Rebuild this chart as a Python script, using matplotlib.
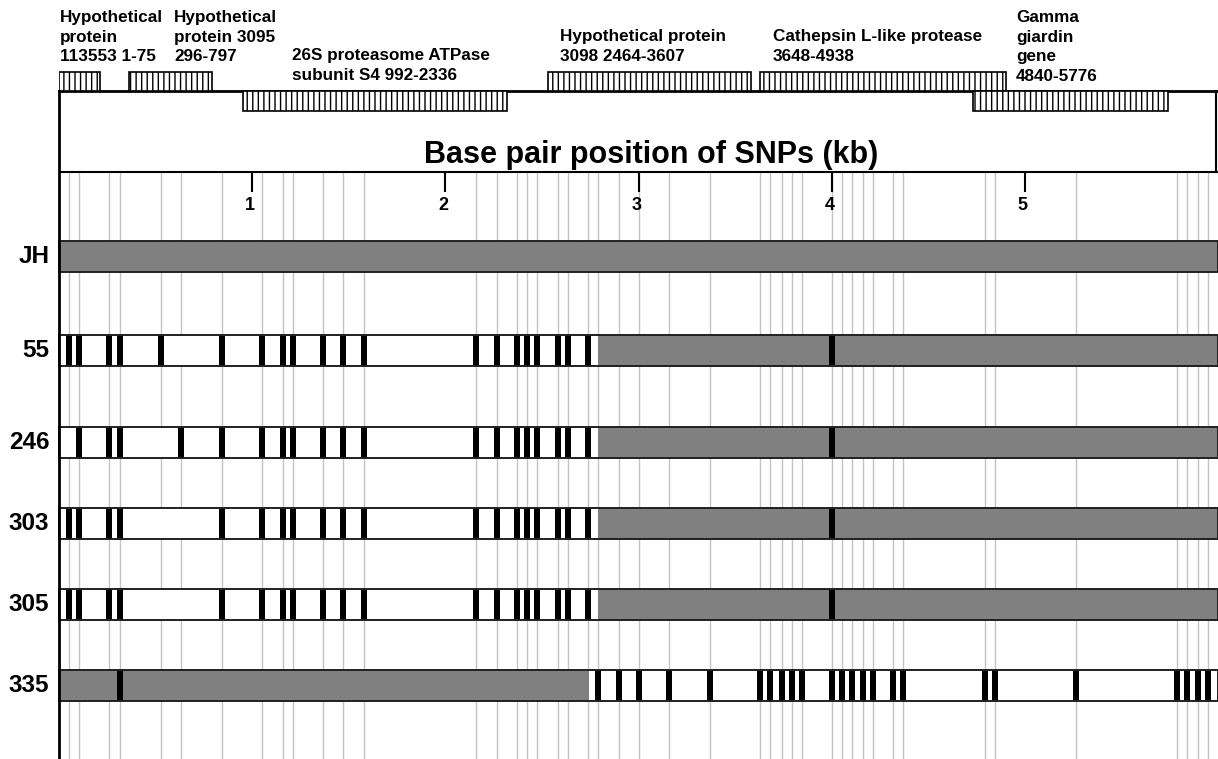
import matplotlib.pyplot as plt
from matplotlib.patches import Rectangle

plt.rcParams['font.family'] = ['Liberation Sans', 'DejaVu Sans']
plt.rcParams['hatch.linewidth'] = 1.0

# all SNP positions (kb)
snps = [0.052, 0.104, 0.259, 0.316, 0.528, 0.631, 0.844, 1.051, 1.159, 1.211,
        1.366, 1.470, 1.579, 2.158, 2.267, 2.371, 2.422, 2.474, 2.583, 2.635,
        2.738, 2.790, 2.899, 3.002, 3.157, 3.370, 3.628, 3.680, 3.742, 3.794,
        3.846, 4.001, 4.053, 4.104, 4.161, 4.213, 4.317, 4.369, 4.793, 4.845,
        5.264, 5.787, 5.839, 5.895, 5.947]

right_block = [1.366, 1.470, 1.579, 2.158, 2.267, 2.371, 2.422, 2.474, 2.583,
               2.635, 2.738, 4.001]

snp_55 = [0.052, 0.104, 0.259, 0.316, 0.528, 0.844, 1.051, 1.159, 1.211] + right_block
snp_246 = [0.104, 0.259, 0.316, 0.631, 0.844, 1.051, 1.159, 1.211] + right_block
snp_303 = [0.052, 0.104, 0.259, 0.316, 0.844, 1.051, 1.159, 1.211] + right_block
snp_305 = [0.052, 0.104, 0.259, 0.316, 0.844, 1.051, 1.159, 1.211] + right_block
snp_335 = [0.316] + [s for s in snps if s >= 2.79]

strains = ['JH', '55', '246', '303', '305', '335']
strain_snps = [[], snp_55, snp_246, snp_303, snp_305, snp_335]
# stretches identical to JH (grey)
strain_grey = [[(0, 6.0)], [(2.79, 6.0)], [(2.79, 6.0)], [(2.79, 6.0)],
               [(2.79, 6.0)], [(0, 2.742)]]

gene_labels = ['Hypothetical\nprotein\n113553 1-75',
               'Hypothetical\nprotein 3095\n296-797',
               '26S proteasome ATPase\nsubunit S4 992-2336',
               'Hypothetical protein\n3098 2464-3607',
               'Cathepsin L-like protease\n3648-4938',
               'Gamma\ngiardin\ngene\n4840-5776']
gene_start = [0.0, 0.36, 0.95, 2.53, 3.63, 4.73]
gene_end = [0.21, 0.79, 2.32, 3.58, 4.90, 5.74]
gene_above = [True, True, False, True, True, False]

kb_ticks = [1, 2, 3, 4, 5]

# layout (pixel rows)
row_top = [241, 335, 427, 508, 589, 670]
row_h = 31
label_x = [0.005, 0.595, 1.206, 2.593, 3.696, 4.953]
label_y = [10, 10, 48, 29, 29, 10]

fig = plt.figure(figsize=(12.18, 7.59), dpi=100)
ax = fig.add_axes([59 / 1218, 0, 1 - 59 / 1218, 1])
ax.set_xlim(0, 6.0)
ax.set_ylim(759, 0)
ax.axis('off')

# gene map
ax.plot([0, 6.0], [91, 91], color='black', lw=2, clip_on=False, zorder=3)
for s, e, up in zip(gene_start, gene_end, gene_above):
    y0 = 72 if up else 91
    ax.add_patch(Rectangle((s, y0), e - s, 19 if up else 20, facecolor='white',
                           edgecolor='black', hatch='|||', lw=1.2, zorder=4))
for x, y, t in zip(label_x, label_y, gene_labels):
    ax.text(x, y, t, ha='left', va='top', fontsize=12.3, fontweight='bold',
            linespacing=1.38)

# axis box
ax.plot([0, 6.0], [172, 172], color='black', lw=1.5, zorder=3)
ax.plot([5.99, 5.99], [91, 172], color='black', lw=1.5, zorder=3)
ax.plot([0, 0], [91, 759], color='black', lw=2, clip_on=False, zorder=6)
ax.text(3.064, 155, 'Base pair position of SNPs (kb)', ha='center', va='center',
        fontsize=22, fontweight='bold')
ax.vlines(kb_ticks, 172, 192, color='black', lw=1.5, zorder=3)
for k in kb_ticks:
    ax.text(k - 0.01, 206, str(k), ha='center', va='center', fontsize=13, fontweight='bold')

ax.vlines(snps, 172, 759, color='#c4c4c4', lw=1, zorder=1)

for name, top, pos, grey in zip(strains, row_top, strain_snps, strain_grey):
    ax.add_patch(Rectangle((0, top), 6.0, row_h, facecolor='white', edgecolor='none', zorder=2))
    for s, e in grey:
        ax.add_patch(Rectangle((s, top), e - s, row_h, facecolor='#808080',
                               edgecolor='none', zorder=3))
    if pos:
        ax.bar(pos, row_h, bottom=top, width=0.029, color='black', align='center', zorder=4)
    ax.add_patch(Rectangle((0, top), 6.0, row_h, fill=False, edgecolor='#202020',
                           lw=1.4, zorder=5, clip_on=False))
    ax.text(-0.05, top + row_h / 2, name, ha='right', va='center', fontsize=17.5,
            fontweight='bold')

fig.savefig('out.png', dpi=100)
